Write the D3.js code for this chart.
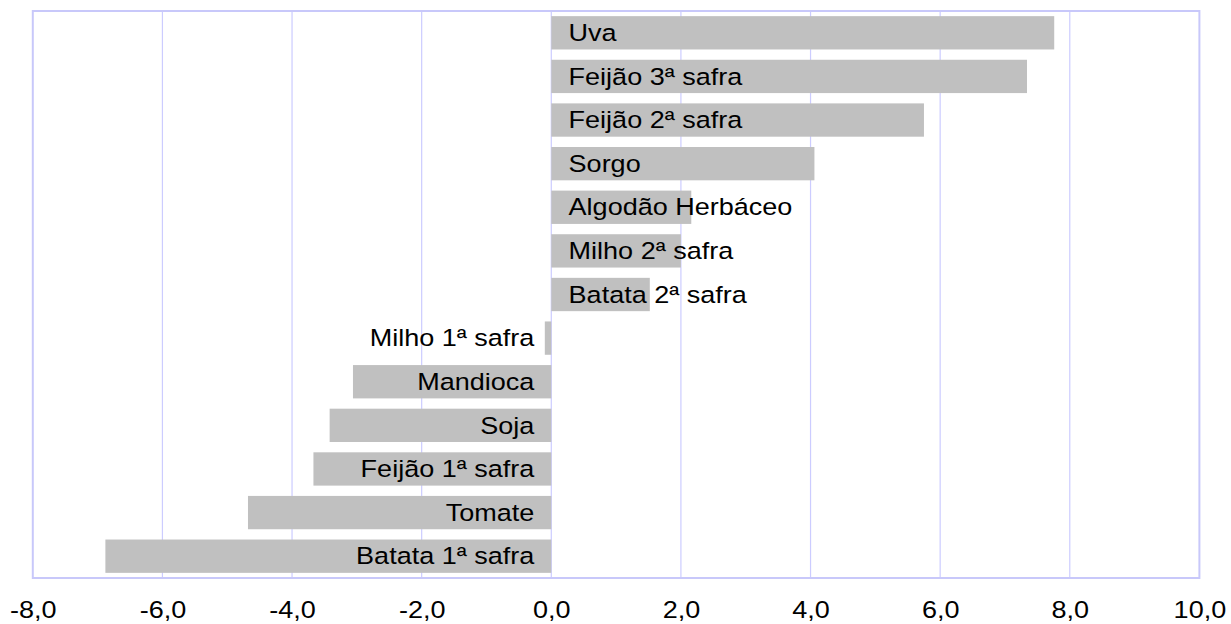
<!DOCTYPE html>
<html>
<head>
<meta charset="utf-8">
<script src="https://cdn.jsdelivr.net/npm/d3@7"></script>
<style>
  html, body { margin: 0; padding: 0; background: #ffffff; }
  svg { display: block; }
  text { font-family: "Liberation Sans", Arial, sans-serif; fill: #000; }
</style>
</head>
<body>
<svg id="chart" width="1231" height="624"></svg>
<script>
const categories = ["Uva", "Feijão 3ª safra", "Feijão 2ª safra", "Sorgo", "Algodão Herbáceo",
  "Milho 2ª safra", "Batata 2ª safra", "Milho 1ª safra", "Mandioca", "Soja",
  "Feijão 1ª safra", "Tomate", "Batata 1ª safra"];
const values = [7.76, 7.34, 5.75, 4.06, 2.16, 2.00, 1.52, -0.10, -3.06, -3.42, -3.67, -4.68, -6.88];
const tickValues = [-8, -6, -4, -2, 0, 2, 4, 6, 8, 10];

const svg = d3.select("#chart");
const plotLeft = 32.8, plotRight = 1199.4, plotTop = 11, plotBottom = 578;
const fontSize = 23.5, stretch = 1.15;

const x = d3.scaleLinear().domain([-8, 10]).range([plotLeft, plotRight]);
const y = d3.scaleBand().domain(categories).range([plotTop, plotBottom])
  .paddingInner(0.236).paddingOuter(0.118);

const fmt = v => d3.format(".1f")(v).replace(".", ",").replace("−", "-");

// gridlines
svg.append("g").selectAll("line").data(tickValues.slice(1, -1)).join("line")
  .attr("x1", d => x(d)).attr("x2", d => x(d))
  .attr("y1", plotTop).attr("y2", plotBottom)
  .attr("stroke", "#ccccff").attr("stroke-width", 1.2);

// bars
svg.append("g").selectAll("rect").data(values).join("rect")
  .attr("x", d => x(Math.min(0, d)))
  .attr("width", d => Math.abs(x(d) - x(0)))
  .attr("y", (d, i) => y(categories[i]))
  .attr("height", y.bandwidth())
  .attr("fill", "#c0c0c0");

// plot border
svg.append("rect")
  .attr("x", plotLeft).attr("y", plotTop)
  .attr("width", plotRight - plotLeft).attr("height", plotBottom - plotTop)
  .attr("fill", "none").attr("stroke", "#c8c8fa").attr("stroke-width", 2);

// bar labels
svg.append("g").selectAll("text").data(values).join("text")
  .attr("transform", (d, i) => {
    const tx = d >= 0 ? x(0) + 17.3 : x(0) - 17;
    const ty = y(categories[i]) + y.bandwidth() / 2 + fontSize * 0.35;
    return `translate(${tx},${ty}) scale(${stretch},1)`;
  })
  .attr("text-anchor", d => d >= 0 ? "start" : "end")
  .style("font-size", fontSize + "px")
  .text((d, i) => categories[i]);

// x axis tick labels
const axis = d3.axisBottom(x).tickValues(tickValues).tickSize(0).tickPadding(0).tickFormat(fmt);
const gAxis = svg.append("g").attr("transform", `translate(0,${plotBottom})`).call(axis);
gAxis.select(".domain").remove();
gAxis.selectAll("text")
  .attr("y", 0).attr("dy", null)
  .attr("transform", `translate(0,40.3) scale(${stretch},1)`)
  .style("font-size", fontSize + "px")
  .style("font-family", "'Liberation Sans', Arial, sans-serif")
  .attr("fill", "#000");
</script>
</body>
</html>
